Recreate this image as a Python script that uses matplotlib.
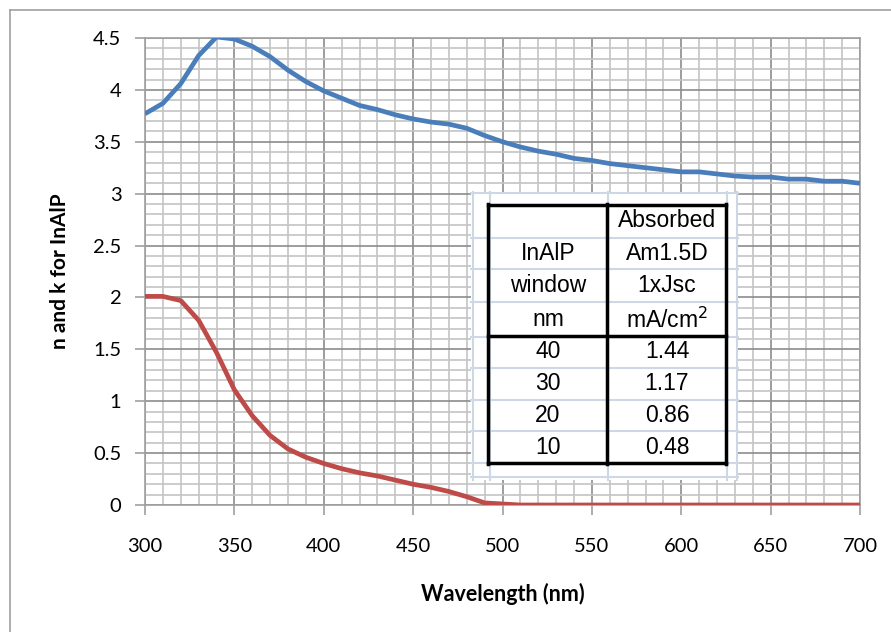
import numpy as np
import matplotlib
matplotlib.use('Agg')
import matplotlib.pyplot as plt
from matplotlib.patches import Rectangle
from matplotlib.lines import Line2D
from matplotlib.ticker import MultipleLocator

plt.rcParams['font.family'] = ['Lato', 'DejaVu Sans']

#%% data
wavelength = [300, 310, 320, 330, 340, 350, 360, 370, 380, 390,
              400, 410, 420, 430, 440, 450, 460, 470, 480, 490,
              500, 510, 520, 530, 540, 550, 560, 570, 580, 590,
              600, 610, 620, 630, 640, 650, 660, 670, 680, 690, 700]
n_inalp = [3.77, 3.87, 4.06, 4.33, 4.51, 4.49, 4.42, 4.32, 4.19, 4.08,
           3.99, 3.92, 3.85, 3.81, 3.76, 3.72, 3.69, 3.67, 3.63, 3.56,
           3.50, 3.45, 3.41, 3.38, 3.34, 3.32, 3.29, 3.27, 3.25, 3.23,
           3.21, 3.21, 3.19, 3.17, 3.16, 3.16, 3.14, 3.14, 3.12, 3.12, 3.10]
k_inalp = [2.01, 2.01, 1.97, 1.78, 1.47, 1.11, 0.86, 0.67, 0.54, 0.46,
           0.40, 0.35, 0.31, 0.28, 0.24, 0.20, 0.17, 0.13, 0.08, 0.02,
           0.01, 0.0, 0.0, 0.0, 0.0, 0.0, 0.0, 0.0, 0.0, 0.0,
           0.0, 0.0, 0.0, 0.0, 0.0, 0.0, 0.0, 0.0, 0.0, 0.0, 0.0]

head_left = ['', 'InAlP', 'window', 'nm']
head_right = ['Absorbed', 'Am1.5D', '1xJsc', 'mA/cm$^2$']
thickness = ['40', '30', '20', '10']
jsc = ['1.44', '1.17', '0.86', '0.48']

#%% figure
W, H = 891, 632
fig = plt.figure(figsize=(W/100, H/100), dpi=100)

def fx(px):
    return px/W
def fy(py):
    return 1 - py/H

ax = fig.add_axes([fx(145), fy(505), fx(860)-fx(145), fy(38)-fy(505)])
ax.plot(wavelength, n_inalp, color='#4a7ebb', linewidth=3.4, solid_capstyle='butt', zorder=3)
ax.plot(wavelength, k_inalp, color='#be4b48', linewidth=3.4, solid_capstyle='butt', zorder=3)

ax.set_xlim(300, 700)
ax.set_ylim(0, 4.5)
ax.xaxis.set_major_locator(MultipleLocator(50))
ax.xaxis.set_minor_locator(MultipleLocator(10))
ax.yaxis.set_major_locator(MultipleLocator(0.5))
ax.yaxis.set_minor_locator(MultipleLocator(0.1))
ax.yaxis.set_major_formatter(plt.FuncFormatter(lambda v, p: ('%g' % v)))

ax.grid(which='major', color='#8c8c8c', linewidth=1.2, zorder=1)
ax.grid(which='minor', color='#c4c4c4', linewidth=1.2, zorder=1)
ax.set_axisbelow(True)

for s in ['top', 'right', 'left', 'bottom']:
    ax.spines[s].set_color('#a0a0a0')
    ax.spines[s].set_linewidth(1.2)

ax.tick_params(which='major', direction='out', length=7, color='#a0a0a0', width=1.2,
               labelsize=14.5)
ax.tick_params(which='minor', length=0)
ax.tick_params(axis='x', pad=17)
ax.tick_params(axis='y', pad=10)

ax.set_xlabel('Wavelength (nm)', fontsize=15.5, fontweight='bold', labelpad=20)
ax.set_ylabel('n and k for InAlP', fontsize=15, fontweight='bold', labelpad=17)

# outer chart border
fig.add_artist(Line2D([fx(10), fx(10)], [fy(10), 0], color='#a0a0a0', linewidth=1.2))
fig.add_artist(Line2D([fx(10), 1], [fy(10), fy(10)], color='#a0a0a0', linewidth=1.2))

#%% inset table
fig.add_artist(Rectangle((fx(471), fy(480)), fx(738)-fx(471), fy(192)-fy(480),
                         facecolor='white', edgecolor='none', zorder=5))
light = '#cdd7e6'
for px in [473, 490, 608, 727, 737]:
    fig.add_artist(Line2D([fx(px), fx(px)], [fy(192), fy(480)], color=light, linewidth=1.5, zorder=6))
for py in [193, 238, 269, 302, 337, 368, 400, 431, 463, 477]:
    fig.add_artist(Line2D([fx(471), fx(738)], [fy(py), fy(py)], color=light, linewidth=1.5, zorder=6))

# black frame
for px in [488, 607, 726]:
    fig.add_artist(Line2D([fx(px), fx(px)], [fy(204), fy(464)], color='black', linewidth=2.5, zorder=7))
for py in [205, 336, 463]:
    fig.add_artist(Line2D([fx(488), fx(726)], [fy(py), fy(py)], color='black', linewidth=2.5, zorder=7))

tfont = dict(ha='center', va='center', fontsize=16.5, family='Liberation Sans', zorder=8)
row_y = [220, 253, 286, 320]
for i in range(4):
    fig.text(fx(548), fy(row_y[i]), head_left[i], **tfont)
    fig.text(fx(667), fy(row_y[i]), head_right[i], **tfont)
data_y = [352, 384, 416, 448]
for i in range(4):
    fig.text(fx(548), fy(data_y[i]), thickness[i], **tfont)
    fig.text(fx(667), fy(data_y[i]), jsc[i], **tfont)

fig.savefig('out.png', dpi=100)
